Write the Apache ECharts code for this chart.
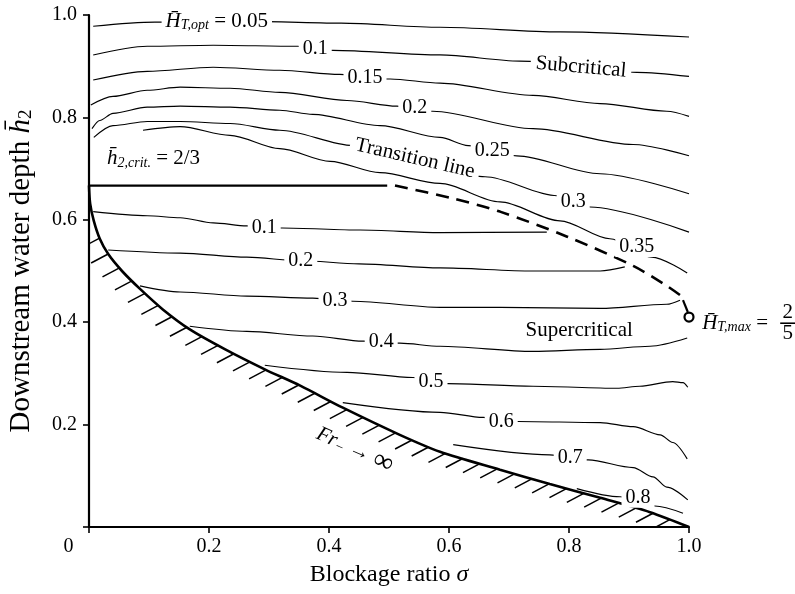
<!DOCTYPE html>
<html>
<head>
<meta charset="utf-8">
<script src="https://cdn.jsdelivr.net/npm/echarts@6/dist/echarts.min.js"></script>
<style>
  html, body { margin: 0; padding: 0; background: #fff; }
  #chart { width: 795px; height: 594px; }
</style>
</head>
<body>
<div id="chart"></div>
<script>
const FONT = '"Liberation Serif", "Times New Roman", "DejaVu Serif", serif';

// Axis ticks (blockage ratio sigma, downstream depth h2)
const sigmaTicks = [0, 0.2, 0.4, 0.6, 0.8, 1.0];
const depthTicks = [0, 0.2, 0.4, 0.6, 0.8, 1.0];

// Subcritical branch: contours of optimal head drop H_T,opt, points are [sigma, h2]
const sub005 = [[0.007,0.978],[0.11,0.986],[0.25,0.988],[0.42,0.984],[0.585,0.976],[0.785,0.967],[1.0,0.957]];
const sub010 = [[0.007,0.922],[0.097,0.939],[0.207,0.941],[0.348,0.939],[0.407,0.931],[0.585,0.922],[0.718,0.910],[0.913,0.888],[1.0,0.880]];
const sub015 = [[0.007,0.873],[0.097,0.890],[0.207,0.898],[0.318,0.892],[0.418,0.884],[0.502,0.875],[0.585,0.867],[0.74,0.843],[0.852,0.827],[0.963,0.812],[1.0,0.802]];
const sub020 = [[0.003,0.824],[0.04,0.841],[0.097,0.853],[0.152,0.859],[0.235,0.857],[0.318,0.849],[0.43,0.833],[0.513,0.822],[0.573,0.812],[0.74,0.778],[0.907,0.747],[1.0,0.725]];
const sub025 = [[0.005,0.778],[0.018,0.794],[0.04,0.808],[0.097,0.820],[0.152,0.822],[0.235,0.820],[0.318,0.814],[0.373,0.806],[0.485,0.784],[0.585,0.761],[0.632,0.745],[0.713,0.725],[0.852,0.690],[1.0,0.651]];
const sub030 = [[0.008,0.761],[0.04,0.784],[0.097,0.792],[0.152,0.792],[0.235,0.788],[0.318,0.775],[0.44,0.745],[0.552,0.716],[0.66,0.684],[0.78,0.647],[0.835,0.625],[1.0,0.576]];
const sub035 = [[0.09,0.775],[0.152,0.782],[0.235,0.765],[0.318,0.739],[0.402,0.714],[0.485,0.692],[0.585,0.671],[0.685,0.635],[0.785,0.598],[0.868,0.563],[0.938,0.527],[0.997,0.496]];

// Supercritical branch contours
const sup010 = [[0.007,0.616],[0.097,0.608],[0.152,0.604],[0.207,0.594],[0.263,0.588],[0.322,0.584],[0.452,0.580],[0.585,0.575],[0.763,0.576]];
const sup020 = [[0.032,0.541],[0.152,0.535],[0.263,0.527],[0.353,0.520],[0.45,0.514],[0.585,0.506],[0.74,0.500],[0.852,0.500],[0.893,0.508]];
const sup030 = [[0.085,0.471],[0.152,0.459],[0.263,0.451],[0.373,0.447],[0.44,0.441],[0.585,0.429],[0.685,0.429],[0.852,0.427],[0.963,0.435],[0.985,0.443]];
const sup040 = [[0.168,0.392],[0.263,0.382],[0.373,0.373],[0.457,0.363],[0.518,0.359],[0.585,0.353],[0.74,0.343],[0.852,0.347],[0.935,0.353],[0.997,0.369]];
const sup050 = [[0.293,0.316],[0.43,0.302],[0.54,0.292],[0.598,0.280],[0.74,0.275],[0.88,0.271],[0.918,0.275],[0.973,0.284],[0.99,0.282],[0.998,0.273]];
const sup060 = [[0.423,0.243],[0.585,0.224],[0.657,0.214],[0.715,0.206],[0.852,0.204],[0.907,0.196],[0.952,0.180],[0.973,0.165],[0.997,0.133]];
const sup070 = [[0.607,0.161],[0.768,0.141],[0.832,0.131],[0.907,0.116],[0.94,0.098],[0.963,0.078],[0.998,0.053]];
const sup080 = [[0.813,0.075],[0.885,0.059],[0.943,0.041],[0.99,0.027]];

// Limit Fr_- -> infinity (hatched boundary)
const frBoundary = [[0,0.667],[0.002,0.631],[0.008,0.598],[0.018,0.563],[0.032,0.533],[0.055,0.5],[0.085,0.465],[0.123,0.425],[0.168,0.386],[0.227,0.347],[0.293,0.308],[0.352,0.276],[0.423,0.233],[0.518,0.18],[0.585,0.147],[0.685,0.112],[0.768,0.084],[0.852,0.057],[0.935,0.029],[1.0,0]];

// Critical depth h2 = 2/3 and the transition line between both branches
const criticalDepth = [[0, 2/3], [0.497, 2/3]];
const transitionLine = [[0.51,0.667],[0.602,0.643],[0.685,0.616],[0.797,0.567],[0.907,0.51],[0.963,0.471],[0.985,0.453]];
const transitionEnd = [[0.99,0.443],[0.998,0.42]];
const maxPoint = [[1.0, 0.41]];

// Contour level labels and their anchors on the curves
const levelTexts = ['{it|H\u0304}{sub|T,opt}{n| = 0.05}','0.1','0.15','0.2','0.25','0.3','0.35',
                    '0.1','0.2','0.3','0.4','0.5','0.6','0.7','0.8'];
const levelAnchors = [[0.213,0.988],[0.377,0.935],[0.46,0.878],[0.543,0.818],[0.672,0.735],[0.807,0.635],[0.913,0.547],
                      [0.292,0.584],[0.353,0.520],[0.41,0.441],[0.487,0.361],[0.57,0.284],[0.687,0.206],[0.802,0.135],[0.915,0.057]];

// Region names placed along the curves
const regionTexts = ['Subcritical', 'Transition line', 'Supercritical', '{it|Fr}{sub|\u2212} \u2192 {inf|\u221E}'];
const regionAnchors = [[0.82,0.898],[0.543,0.72],[0.817,0.384],[0.443,0.151]];
const regionAngles = [-5, -13, 0, -24];

// Side notes
const noteTexts = ['{it|h\u0304}{sub|2,crit.}{n| = 2/3}', '{it|H\u0304}{sub|T,max}{n| = }', '{num|2}\n{bar| }\n{num|5}'];
const noteAnchors = [[0.03,0.72],[1.022,0.398],[1.152,0.398]];

const rich = {
  it:  { fontFamily: FONT, fontStyle: 'italic', fontSize: 21, color: '#000' },
  sub: { fontFamily: FONT, fontStyle: 'italic', fontSize: 14, color: '#000', padding: [9, 0, 0, 0] },
  n:   { fontFamily: FONT, fontSize: 21, color: '#000' },
  inf: { fontFamily: FONT, fontSize: 28, color: '#000' },
  num: { fontFamily: FONT, fontSize: 21, color: '#000', lineHeight: 17, align: 'center' },
  bar: { width: 15, height: 1.6, lineHeight: 4, fontSize: 1, backgroundColor: '#000', align: 'center' }
};

function contour(data) {
  return {
    type: 'line', data: data, symbol: 'none', smooth: 0.3, smoothMonotone: 'x',
    lineStyle: { color: '#000', width: 1.15 }, silent: true, z: 2
  };
}

// Short parallel hatch strokes on the inaccessible side of the Fr limit
function renderHatch(params, api) {
  const pts = frBoundary.map(p => api.coord(p));
  const origin = api.coord([0, 0]);
  const step = 18, dx = -17, dy = 9;
  const strokes = [];
  let next = 0, travelled = 0;
  for (let i = 1; i < pts.length; i++) {
    const a = pts[i - 1], b = pts[i];
    const len = Math.hypot(b[0] - a[0], b[1] - a[1]);
    while (next <= travelled + len) {
      const t = len ? (next - travelled) / len : 0;
      const x = a[0] + t * (b[0] - a[0]);
      const y = a[1] + t * (b[1] - a[1]);
      if (x - origin[0] > 7) {
        strokes.push({
          type: 'line',
          shape: { x1: x, y1: y, x2: x + dx, y2: y + dy },
          style: { stroke: '#000', lineWidth: 1.5 }
        });
      }
      next += step;
    }
    travelled += len;
  }
  return { type: 'group', children: strokes };
}

const series = [sub005, sub010, sub015, sub020, sub025, sub030, sub035,
                sup010, sup020, sup030, sup040, sup050, sup060, sup070, sup080].map(contour);

series.push({
  type: 'line', data: frBoundary, symbol: 'none', smooth: 0.3,
  lineStyle: { color: '#000', width: 2.6 }, silent: true, z: 4
});
series.push({
  type: 'custom', data: [[0, 0]], clip: true, silent: true, z: 3,
  renderItem: renderHatch
});
series.push({
  type: 'line', data: criticalDepth, symbol: 'none',
  lineStyle: { color: '#000', width: 2.2 }, silent: true, z: 4
});
series.push({
  type: 'line', data: transitionLine, symbol: 'none', smooth: 0.3,
  lineStyle: { color: '#000', width: 2.6, type: [13, 8] }, silent: true, z: 4
});
series.push({
  type: 'line', data: transitionEnd, symbol: 'none',
  lineStyle: { color: '#000', width: 2.2 }, silent: true, z: 4
});
series.push({
  type: 'scatter', data: maxPoint, symbol: 'circle', symbolSize: 9, clip: false,
  itemStyle: { color: '#fff', borderColor: '#000', borderWidth: 2.2, opacity: 1 }, silent: true, z: 6
});

const plainLabel = {
  show: true, formatter: p => p.name, fontFamily: FONT, color: '#000',
  textBorderWidth: 0, textBorderColor: 'transparent', rich: rich
};

// Contour values, drawn over their curves with a white gap
series.push({
  type: 'scatter', symbolSize: 0, clip: false, silent: true, z: 8,
  itemStyle: { color: '#000', opacity: 1 },
  data: levelTexts.map((t, i) => ({ name: t, value: levelAnchors[i] })),
  label: Object.assign({}, plainLabel, {
    position: 'inside', fontSize: 20, lineHeight: 20,
    backgroundColor: '#fff', padding: [0, 4]
  })
});
series.push({
  type: 'scatter', symbolSize: 0, clip: false, silent: true, z: 8,
  itemStyle: { color: '#000', opacity: 1 },
  data: regionTexts.map((t, i) => ({ name: t, value: regionAnchors[i], label: { rotate: regionAngles[i] } })),
  label: Object.assign({}, plainLabel, {
    position: 'inside', fontSize: 21, lineHeight: 21,
    backgroundColor: '#fff', padding: [0, 5]
  })
});
series.push({
  type: 'scatter', symbolSize: 0, clip: false, silent: true, z: 8,
  itemStyle: { color: '#000', opacity: 1 },
  data: noteTexts.map((t, i) => ({ name: t, value: noteAnchors[i] })),
  label: Object.assign({}, plainLabel, { position: 'right', distance: 0, fontSize: 21 })
});

const axisText = { fontFamily: FONT, fontSize: 20, color: '#000' };

const option = {
  animation: false,
  backgroundColor: '#fff',
  grid: { left: 89, right: 106, top: 15, bottom: 67, outerBoundsMode: 'none' },
  xAxis: {
    type: 'value', min: sigmaTicks[0], max: sigmaTicks[sigmaTicks.length - 1], interval: 0.2,
    name: 'Blockage ratio {i|\u03C3}', nameLocation: 'middle', nameGap: 36,
    nameTextStyle: { fontFamily: FONT, fontSize: 24, color: '#000',
      rich: { i: { fontFamily: FONT, fontSize: 24, fontStyle: 'italic', color: '#000' } } },
    axisLine: { lineStyle: { color: '#000', width: 2.2 } },
    axisTick: { length: 6, lineStyle: { color: '#000', width: 1.6 } },
    splitLine: { show: false },
    axisLabel: Object.assign({}, axisText, {
      margin: 10,
      formatter: v => (Math.abs(v) < 1e-9 ? '{z|0}' : v.toFixed(1)),
      rich: { z: { fontFamily: FONT, fontSize: 20, color: '#000', padding: [0, 41, 0, 0] } }
    })
  },
  yAxis: {
    type: 'value', min: depthTicks[0], max: depthTicks[depthTicks.length - 1], interval: 0.2,
    name: 'Downstream water depth {i|h\u0304}{s|2}', nameLocation: 'middle', nameGap: 53, nameRotate: 90,
    nameTextStyle: { fontFamily: FONT, fontSize: 29, color: '#000',
      rich: {
        i: { fontFamily: FONT, fontSize: 29, fontStyle: 'italic', color: '#000' },
        s: { fontFamily: FONT, fontSize: 19, color: '#000', padding: [11, 0, 0, 0] }
      } },
    axisLine: { lineStyle: { color: '#000', width: 2.2 } },
    axisTick: { length: 6, lineStyle: { color: '#000', width: 1.6 } },
    splitLine: { show: false },
    axisLabel: Object.assign({}, axisText, {
      margin: 12,
      formatter: v => (Math.abs(v) < 1e-9 ? '' : v.toFixed(1))
    })
  },
  series: series
};

const chart = echarts.init(document.getElementById('chart'));
chart.setOption(option);
</script>
</body>
</html>
